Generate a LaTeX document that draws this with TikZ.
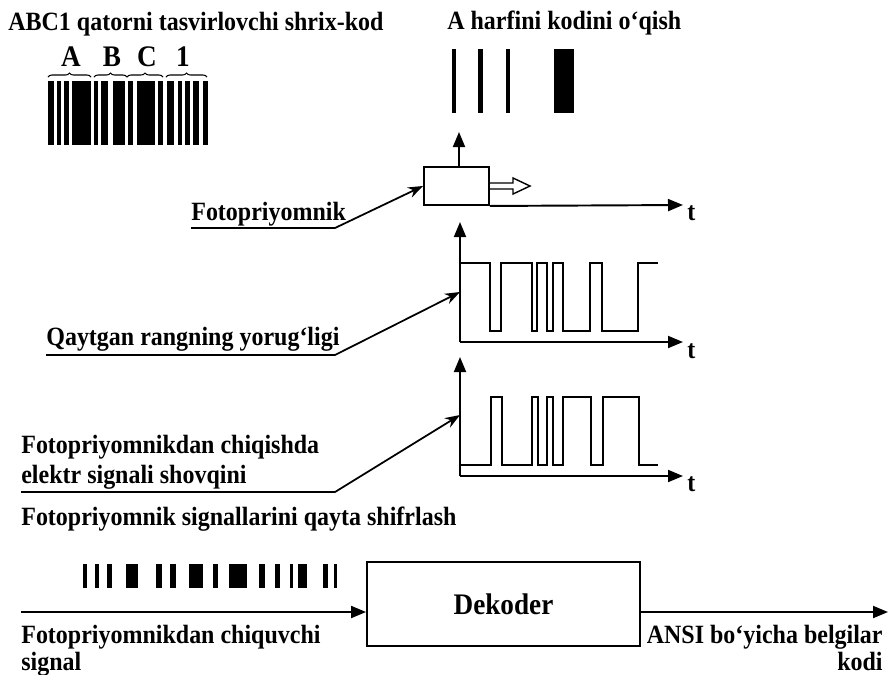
\documentclass[tikz,border=0pt]{standalone}
\usepackage{fontspec}
\setmainfont{Liberation Serif}[FakeStretch=0.91]
\usetikzlibrary{arrows.meta,decorations.pathreplacing}
\tikzset{
  txt/.style={font=\fontsize{15}{17}\selectfont\bfseries,inner sep=0pt},
  low/.style={font=\fontsize{15}{15}\selectfont\bfseries},
  box/.style={draw,line width=1.1pt,inner sep=0pt},
  axis/.style={line width=1.1pt,-{Triangle[length=0.3cm,width=0.24cm]}},
  pointer/.style={line width=1pt,-{Stealth[length=0.3cm,width=0.22cm]}},
  sig/.style={line width=1.1pt},
  brc/.style={decorate,decoration={brace,amplitude=0.08cm},line width=0.6pt}
}
\begin{document}
\begin{tikzpicture}[x=0.02cm,y=-0.02cm]
  \useasboundingbox (0,0) rectangle (889,674);
  % shtrix-kod
  \node[txt,anchor=base west] (title) at (8,30) {ABC1 qatorni tasvirlovchi shrix-kod};
  \foreach \n/\x in {A/71,B/112,C/147,1/183}
    \node[txt,anchor=base,font=\fontsize{17}{20}\selectfont\bfseries] (lt\n) at (\x,66) {\n};
  \foreach \a/\b in {48/91,94/127,127/163,166/207}
    \draw[brc] (\a,77) -- (\b,77);
  \foreach \a/\b in {48/54,57/60.5,64/69,72/91,94/98,101/108,113/125,128/133,137/155,158/163,166.5/174,178/182,184.5/190,193/199,203/208}
    \fill (\a,81) rectangle (\b,145);
  % A harfi
  \node[txt,anchor=base west] (read) at (447,29) {A harfini kodini o‘qish};
  \foreach \a/\b in {452/456,478/483,506/510,554/574}
    \fill (\a,49) rectangle (\b,113);
  % fotopriyomnik
  \node[box,minimum width=1.3cm,minimum height=0.76cm] (fp) at (456.5,186) {};
  \coordinate (up) at (459,132);
  \draw[axis] (fp.north -| up) -- (up);
  \draw[line width=0.8pt] (489,183) -- (513,183) -- (513,178) -- (530,186) -- (513,194) -- (513,189) -- (489,189);
  \coordinate (t0) at (683,205);
  \draw[axis] (fp.south east) -- (t0);
  \node[txt,anchor=west] (lt0) at (687,213) {t};
  % yorug'lik
  \coordinate (o1) at (460,342);
  \coordinate (y1) at (460,222);
  \coordinate (t1) at (683,342);
  \coordinate (a1) at (460,292);
  \draw[axis] (o1) -- (y1);
  \draw[axis] (o1) -- (t1);
  \node[txt,anchor=west] (lt1) at (687,351) {t};
  \draw[sig] (460,263) -| (490,331) -| (501,263) -| (532,331) -| (537,263) -| (547,331) -| (553,263)
    -| (563,331) -| (590,263) -| (602,331) -| (638,263) -- (658,263);
  % elektr signal
  \coordinate (o2) at (460,476);
  \coordinate (y2) at (460,357);
  \coordinate (t2) at (683,476);
  \coordinate (a2) at (460,415);
  \draw[axis] (o2) -- (y2);
  \draw[axis] (o2) -- (t2);
  \node[txt,anchor=west] (lt2) at (687,484) {t};
  \draw[sig] (461,465) -| (491,397) -| (502,465) -| (532,397) -| (538,465) -| (547,397) -| (553,465)
    -| (563,397) -| (591,465) -| (603,397) -| (639,465) -- (658,465);
  % izohlar
  \node[txt,anchor=base west] (lfp) at (191,220) {Fotopriyomnik};
  \coordinate (b1) at (335,228);
  \draw[pointer] (lfp.west |- b1) -- (b1) -- (fp.west);
  \node[txt,anchor=base west] (lqy) at (46,345) {Qaytgan rangning yorug‘ligi};
  \coordinate (b2) at (335,355);
  \draw[pointer] (lqy.west |- b2) -- (b2) -- (a1);
  \node[txt,anchor=north west,align=left] (lsh) at (21,435) {Fotopriyomnikdan chiqishda\\elektr signali shovqini};
  \coordinate (b3) at (335,492);
  \draw[pointer] (lsh.west |- b3) -- (b3) -- (a2);
  % dekoder
  \node[txt,anchor=base west] (dec) at (21,525) {Fotopriyomnik signallarini qayta shifrlash};
  \foreach \a/\b in {82.5/87,94.5/99,106.5/112,126/138,156/161.5,169.5/176,189/203,212.5/218,229/246.5,259/265,274.5/280,289.5/292.5,297.5/306.5,322.5/328,333.5/337}
    \fill (\a,564) rectangle (\b,588);
  \node[box,minimum width=5.46cm,minimum height=1.68cm,txt,draw,font=\fontsize{17}{20}\selectfont\bfseries] (dk) at (503.5,604) {Dekoder};
  \coordinate (in) at (21,612);
  \coordinate (out) at (888,612);
  \draw[axis] (in) -- (in -| dk.west);
  \draw[axis] (out -| dk.east) -- (out);
  \node[txt,low,anchor=north west,align=left] (lin) at (21,625) {Fotopriyomnikdan chiquvchi\\signal};
  \node[txt,low,anchor=north east,align=right] (lout) at (883,625) {ANSI bo‘yicha belgilar\\kodi};
\end{tikzpicture}
\end{document}
